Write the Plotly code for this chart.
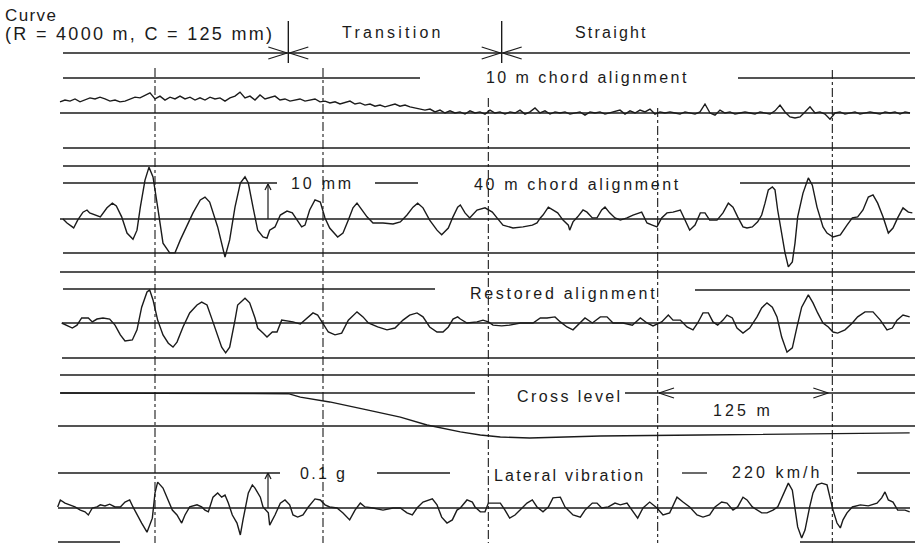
import numpy as np
import plotly.graph_objects as go

# ---------------- data (read from the recording) ----------------
section_bounds_m = [100, 260]            # curve|transition, transition|straight
marker_m = [0, 126, 250, 377, 508]       # dash-dot distance markers
span_text = "125 m"

# 10 m chord alignment (mm), sampled every 3.75 m from -71.25 m
chord10_start_m = -71.25
chord10_step_m = 3.75
chord10_mm = [
    3.1, 3.6, 3.3, 3.9, 3.1, 3.6, 4.2, 3.9, 4.4, 3.9,
    3.3, 3.6, 3.1, 3.3, 3.9, 4.4, 4.2, 5.0, 5.6, 3.9,
    4.7, 3.6, 4.4, 3.9, 4.7, 3.9, 4.4, 3.6, 4.2, 3.6,
    4.4, 3.9, 4.2, 3.3, 4.2, 4.7, 5.8, 4.2, 4.7, 3.6,
    5.0, 3.9, 4.4, 4.7, 3.6, 3.9, 3.3, 3.6, 3.9, 3.3,
    3.6, 3.9, 3.1, 3.3, 2.8, 3.1, 2.5, 2.8, 3.3, 2.5,
    2.8, 2.2, 2.5, 1.9, 2.2, 1.7, 2.2, 2.5, 1.9, 2.2,
    1.7, 1.4, 1.1, 0.8, 1.1, 0.3, 0.8, 0.0, 0.6, 0.0,
    0.3, -0.3, 0.6, 0.0, 0.3, -0.3, 0.8, 0.0, 0.3, -0.3,
    0.3, 0.0, 0.8, -0.3, 0.3, 1.4, 0.0, 0.6, -0.3, 0.3,
    0.0, 0.3, -0.3, 0.0, 0.3, -0.6, 0.3, 0.0, 0.3, -0.3,
    0.0, 0.3, 0.8, -0.3, 0.6, 0.0, 0.8, 0.3, 1.1, -0.3,
    0.3, 0.0, 0.3, 0.0, -0.3, 0.3, 0.0, -0.3, 0.3, 2.5,
    0.0, -0.6, 0.8, 0.0, 0.3, -0.3, 0.0, 0.3, 0.0, -0.3,
    0.3, 0.0, -0.3, 0.6, 2.2, 0.3, -1.1, -1.4, -1.1, 0.3,
    1.7, 0.0, 0.3, -0.3, -1.7, 0.0, 0.3, -0.3, 0.0, 0.3,
    -0.3, 0.0, 0.3, 0.0, -0.3, 0.3, 0.0, 0.3, -0.3, 0.3,
    0.0,
]

# 40 m chord alignment (distance m, mm)
chord40_m = [
    -69, -66, -62, -61, -58, -54, -51, -49, -41, -36,
    -32, -29, -25, -21, -16.5, -13.5, -11, -7.5, -4.5, -1.5,
    2, 6, 11, 15, 19, 25, 28.5, 34, 37.5, 41,
    43.5, 47, 52.5, 56, 60, 64, 67.5, 70, 73.5, 77,
    81, 84, 86, 90, 94, 99, 103, 106.5, 110, 112.5,
    116, 120, 124, 127.5, 131, 137, 141, 145, 148.5, 151.5,
    155, 159, 163.5, 171, 178.5, 184, 189, 193.5, 197, 201,
    206, 211.5, 215, 220, 223.5, 227, 229, 232.5, 236, 241.5,
    247.5, 253, 256.5, 261, 268.5, 276, 283, 286.5, 289, 291,
    295, 298.5, 302, 306, 310, 311, 313.5, 317, 321, 324,
    328, 331.5, 335, 337.5, 341, 345, 349, 354, 358.5, 365,
    369, 373, 376.5, 380, 384, 388.5, 394, 397.5, 401, 405,
    409, 412.5, 416, 421.5, 426, 430, 433.5, 437, 441, 444,
    448, 452, 455, 457.5, 460, 463, 465, 467, 470, 472.5,
    475, 478, 480, 482, 486, 490, 493, 496.5, 501, 504,
    508.5, 514, 519, 523, 527, 531, 535, 538.5, 542, 546,
    550, 553.5, 557, 561, 565, 568,
]
chord40_mm = [
    0, -1.1, -2.2, -2.5, -0.3, 1.9, 2.5, 1.7, 0.6, 3.1,
    4.4, 3.6, 0.6, -3.9, -5.6, -3.1, 3.3, 10.8, 14.4, 11.7,
    3.3, -6.7, -9.4, -9.4, -5.8, -1.1, 1.7, 5.3, 6.1, 4.7,
    1.9, -2.2, -10.6, -5.8, 3.3, 10.0, 11.7, 10.0, 3.3, -3.1,
    -5.0, -5.3, -3.1, -2.2, 1.1, 2.2, 1.7, -0.3, -2.2, -1.7,
    2.5, 5.3, 4.7, 0.3, -2.5, -5.0, -3.9, -0.3, 3.1, 4.4,
    2.5, 0.6, -1.1, -1.1, -1.4, -0.8, 1.1, 3.3, 4.4, 3.1,
    -0.3, -3.1, -4.4, -2.5, 0.6, 3.3, 3.9, 1.7, 0.3, 2.5,
    3.1, 1.9, 0.3, -1.7, -2.5, -2.2, -1.7, -1.1, 0.3, 1.1,
    3.3, 2.5, 1.7, -0.3, -1.7, -3.1, -0.8, 0.6, 2.5, 1.9,
    0.3, 0.3, 2.5, 3.3, 1.7, 0.3, -0.3, 0.3, 1.1, 1.9,
    -1.1, -1.7, -2.2, 0.3, 1.7, 1.9, 2.5, -0.3, -3.1, -1.7,
    1.7, 1.7, -0.3, -0.3, 1.7, 4.4, 3.3, 0.6, -2.2, -2.5,
    -2.2, -0.8, 1.1, 4.4, 8.1, 8.9, 8.1, 2.5, -3.9, -9.4,
    -13.3, -11.9, -6.7, 0.6, 7.2, 11.4, 9.4, 3.3, -2.2, -3.9,
    -5.0, -4.4, -1.7, 0.3, 0.6, 2.5, 6.1, 6.7, 4.4, 0.6,
    -3.9, -2.5, 0.3, 3.1, 1.9, 1.7,
]

# Restored alignment (distance m, mm)
restored_m = [
    -70, -66, -62, -58.5, -55, -50, -47, -43.5, -39, -34,
    -30, -26, -22.5, -17, -13.5, -10, -6, -4, -1.5, 2,
    6, 10, 13.5, 16.5, 21, 26, 31.5, 35, 39, 43,
    46.5, 50, 53, 56, 60, 62, 67.5, 71, 75, 77,
    81, 84, 88, 91.5, 95, 99, 103.5, 109, 114, 118.5,
    122, 126, 130, 135, 140, 145, 151.5, 156, 160, 167,
    174, 180, 186, 191, 196.5, 201, 206, 211.5, 216, 220,
    223.5, 227, 229, 234, 241.5, 246, 250, 253.5, 260, 266,
    274, 283.5, 289, 294, 300, 304, 309, 313.5, 319, 322.5,
    328, 334, 339, 343.5, 351, 358, 364, 369, 373.5, 380,
    385, 388.5, 394, 399, 403.5, 407, 411, 415, 418.5, 422,
    426, 429, 433, 436.5, 441, 446, 451.5, 455, 459, 463,
    466.5, 470, 474, 478, 481.5, 485, 490, 493.5, 497, 501,
    505, 508.5, 512, 517.5, 523, 527, 532.5, 538.5, 544, 549,
    553, 556.5, 561, 566,
]
restored_mm = [
    0, -0.6, -1.4, -0.6, 1.4, 1.4, 0.3, 1.1, 1.4, 1.1,
    -0.6, -3.3, -5.0, -4.7, -1.9, 4.4, 8.6, 9.2, 6.4, 0.8,
    -3.3, -5.6, -6.7, -5.3, -1.1, 2.8, 5.0, 5.8, 5.0, 0.8,
    -2.8, -6.7, -8.3, -6.7, 0.8, 5.0, 6.9, 5.6, 1.4, -1.4,
    -2.8, -3.9, -2.5, -2.5, 0.8, 0.6, 0.3, -0.3, 1.4, 2.8,
    2.2, 0, -2.5, -3.3, -2.8, 0.8, 3.1, 1.7, 0, -1.1,
    -1.9, -1.4, 0.8, 2.2, 2.8, 1.7, -1.1, -2.5, -2.5, -1.1,
    1.1, 1.7, 1.1, 0, 0.3, 0.8, 0.3, -0.6, -0.8, -0.6,
    0, 0, 1.4, 1.4, 1.7, 0.3, -1.1, -1.9, 0.3, 1.4,
    0, 1.7, 1.7, 0, 0, -0.6, 1.4, 0, -0.8, 0.3,
    2.2, 0.8, 0.8, -1.1, -1.9, 0, 2.8, 2.8, 0.3, -0.6,
    0.8, 2.2, 1.4, -1.4, -2.8, -1.4, 1.7, 4.2, 5.6, 4.4,
    1.7, -3.9, -8.1, -6.9, -1.1, 4.4, 7.8, 5.6, 2.8, 0,
    -1.1, -2.5, -2.8, -1.9, 0, 1.7, 3.1, 3.1, 0.8, -1.9,
    -1.4, 0.8, 2.2, 1.7,
]

# Cross level (distance m, mm) - cant 125 mm in the curve
cross_m = [-71, 100, 109, 131, 159, 184, 204, 229, 244, 259, 281, 304, 334, 409, 484, 566]
cross_mm = [125, 123, 113, 99, 76, 55, 32, 12, 3, -3, -6, -3, 0, 3, 6, 9]

# Lateral vibration (distance m, g)
lateral_m = [
    -73, -71, -67.5, -64, -60, -56, -52.5, -50, -47, -43.5,
    -41, -37.5, -34, -30, -26, -22.5, -19, -16.5, -13.5, -10,
    -6, -2, 0, 2, 6, 10, 13, 16.5, 20, 22.5,
    26, 31.5, 35, 37.5, 40, 43.5, 47, 50, 52.5, 55,
    58, 61.5, 64, 66, 70, 73, 75, 79, 81, 85,
    86, 90, 94, 97.5, 101, 103.5, 107, 111, 115, 120,
    124, 127.5, 131, 136.5, 141, 146, 150, 154, 157.5, 163.5,
    171, 178.5, 184, 189, 193, 196.5, 201, 208, 211.5, 215,
    219, 223, 226.5, 229, 234, 238, 240, 244, 247.5, 250,
    253.5, 259, 262.5, 266, 270, 274, 279, 283, 286.5, 291,
    295, 298.5, 304, 307.5, 313.5, 319, 322.5, 328, 331.5, 335,
    340, 345, 349, 354, 358.5, 362, 366, 371, 376.5, 381,
    386, 391.5, 396, 401, 406.5, 411, 416, 420, 425, 429,
    433.5, 437, 441, 444, 448, 451.5, 455, 459, 463.5, 467,
    470, 472.5, 475, 478, 480, 482, 485, 487.5, 491, 493.5,
    496.5, 500, 504, 506, 508.5, 511.5, 514, 516, 519, 523,
    529, 535, 541.5, 545, 547.5, 550, 553.5, 557, 562.5, 566,
]
lateral_g = [
    0.003, 0.023, 0.014, 0.009, 0.003, -0.006, -0.011, -0.020, 0, 0.003,
    0.009, 0.006, 0.011, 0.003, 0.003, 0.017, 0.023, 0.003, -0.020, -0.043,
    -0.069, -0.029, 0.043, 0.074, 0.057, 0.023, -0.006, -0.020, -0.043, -0.020,
    0.003, 0.009, 0.003, -0.006, -0.011, 0.031, 0.043, 0.031, 0.037, 0.014,
    -0.020, -0.043, -0.077, -0.034, 0.043, 0.066, 0.057, 0.031, 0.003, -0.014,
    -0.049, -0.020, 0.014, 0.023, 0.009, -0.020, -0.026, -0.020, 0.003, 0.026,
    0.023, 0.009, 0.003, 0, -0.014, -0.034, -0.006, 0.014, 0.003, 0,
    -0.006, 0, 0, -0.014, -0.020, 0, 0.017, 0.026, 0.009, -0.026,
    -0.043, -0.034, -0.006, 0, 0.023, 0.017, 0.003, -0.011, -0.011, 0.014,
    0.014, 0.014, -0.006, -0.029, -0.020, -0.006, 0.014, 0.023, 0.003, -0.011,
    0.003, 0.029, 0.031, 0.003, -0.020, -0.026, -0.006, 0.014, 0.014, 0,
    0.003, 0.014, 0.009, 0.014, -0.011, -0.029, 0, 0.017, 0, -0.020,
    -0.014, 0.031, 0.017, 0.003, -0.020, -0.026, -0.020, 0.003, 0.017, 0.014,
    -0.006, 0.003, 0.031, 0.023, 0.003, -0.006, -0.014, -0.014, -0.006, 0.003,
    0.029, 0.051, 0.071, 0.051, -0.006, -0.054, -0.086, -0.063, 0.003, 0.043,
    0.066, 0.071, 0.066, 0.031, -0.006, -0.043, -0.057, -0.034, -0.014, 0.003,
    0.009, 0.006, 0.014, 0.029, 0.046, 0.023, 0.017, -0.006, -0.006, -0.011,
]

# ---------------- layout constants ----------------
W, H = 920, 543
M_PER_PX = 0.75
ORIGIN_PX = 155
INK = "#1b1b1b"
FONT = "Liberation Sans, Arial, sans-serif"

chord10_m = chord10_start_m + chord10_step_m * np.arange(len(chord10_mm))

# (x, y, baseline pixel row, pixels per unit)
channels = [
    (chord10_m, chord10_mm, 113, 3.6),
    (chord40_m, chord40_mm, 219, 3.6),
    (restored_m, restored_mm, 323, 3.6),
    (cross_m, cross_mm, 436, 0.344),
    (lateral_m, lateral_g, 508, 350.0),
]

fig = go.Figure()
layout_axes = {}
for i, (xs, ys, base, ppu) in enumerate(channels):
    name = "y" if i == 0 else f"y{i + 1}"
    fig.add_trace(go.Scatter(x=list(xs), y=ys, mode="lines", yaxis=name,
                             line=dict(color=INK, width=1.4), hoverinfo="skip"))
    key = "yaxis" if i == 0 else f"yaxis{i + 1}"
    ax = dict(range=[-(H - base) / ppu, base / ppu], visible=False, fixedrange=True)
    if i > 0:
        ax["overlaying"] = "y"
    layout_axes[key] = ax


def px(x):
    return x / W


def py(y):
    return 1 - y / H


shapes = []


def hline(y, x0, x1, w=1.3):
    shapes.append(dict(type="line", xref="paper", yref="paper",
                       x0=px(x0), x1=px(x1), y0=py(y), y1=py(y),
                       line=dict(color=INK, width=w)))


def seg_p(x0, y0, x1, y1, w=1.2):
    shapes.append(dict(type="line", xref="paper", yref="paper",
                       x0=px(x0), x1=px(x1), y0=py(y0), y1=py(y1),
                       line=dict(color=INK, width=w)))


def seg_x(m0, y0, m1, y1, w=1.2):
    shapes.append(dict(type="line", xref="x", yref="paper",
                       x0=m0, x1=m1, y0=py(y0), y1=py(y1),
                       line=dict(color=INK, width=w)))


rules = [
    (53, 63, 910), (78, 63, 420), (78, 738, 915), (113, 60, 910),
    (148, 63, 910), (166, 63, 910), (183, 63, 277), (183, 375, 418),
    (183, 740, 915), (219, 60, 915), (253, 63, 915), (272, 60, 915),
    (289, 63, 435), (290, 695, 910), (323, 62, 910), (358, 62, 915),
    (375, 60, 915), (393, 60, 475), (393, 625, 915), (426, 58, 915),
    (473, 58, 280), (473, 377, 450), (473, 682, 707), (473, 857, 910),
    (508, 58, 910), (542, 58, 120), (542, 800, 915),
]
for y, a, b in rules:
    hline(y, a, b)

# dash-dot distance markers
marker_top = [68, 68, 98, 108, 70]
for m, top in zip(marker_m, marker_top):
    shapes.append(dict(type="line", xref="x", yref="paper", x0=m, x1=m,
                       y0=py(top), y1=py(H), line=dict(color=INK, width=1.1, dash="dashdot")))

# section boundaries  ->|<-
arm = 20 * M_PER_PX
for b in section_bounds_m:
    seg_x(b, 21, b, 63, 1.4)
    seg_x(b - arm, 47, b - 0.8, 53)
    seg_x(b - arm, 59, b - 0.8, 53)
    seg_x(b + 0.8, 53, b + arm, 47)
    seg_x(b + 0.8, 53, b + arm, 59)

# 125 m span arrow between the last two markers
a0, a1 = marker_m[3] + 1, marker_m[4] - 3
arm2 = 15 * M_PER_PX
seg_x(a0, 393, a0 + arm2, 388)
seg_x(a0, 393, a0 + arm2, 398)
seg_x(a1, 393, a1 - arm2, 388)
seg_x(a1, 393, a1 - arm2, 398)

# scale arrows (10 mm and 0.1 g)
for base in (219, 508):
    seg_p(268, base, 268, base - 35, 1.2)
    seg_p(265, base - 29, 268, base - 35, 1.2)
    seg_p(271, base - 29, 268, base - 35, 1.2)

labels = [
    ("Curve", 3, 15, "left", 17, 1.4),
    ("(R = 4000 m, C = 125 mm)", 3, 34, "left", 18, 2.3),
    ("Transition", 393, 33, "center", 16, 3.2),
    ("Straight", 611, 33, "center", 16, 2.2),
    ("10 m chord alignment", 587, 78, "center", 16, 2.45),
    ("10 mm", 322, 183, "center", 16, 2.8),
    ("40 m chord alignment", 577, 184, "center", 16, 2.65),
    ("Restored alignment", 563, 293, "center", 16, 2.7),
    ("Cross level", 570, 396, "center", 16, 2.4),
    (span_text, 743, 410, "center", 16, 3.1),
    ("0.1 g", 323, 473, "center", 16, 2.3),
    ("Lateral vibration", 569, 475, "center", 16, 2.2),
    ("220 km/h", 777, 472, "center", 16, 3.1),
]
annotations = []
for text, x, y, anc, size, ls in labels:
    annotations.append(dict(
        text=f'<span style="letter-spacing:{ls}px">{text}</span>',
        xref="paper", yref="paper", x=px(x), y=py(y),
        xanchor=anc, yanchor="middle", showarrow=False,
        font=dict(family=FONT, size=size, color=INK), bgcolor="rgba(0,0,0,0)"))

fig.update_layout(
    width=W, height=H,
    margin=dict(l=0, r=0, t=0, b=0, pad=0),
    paper_bgcolor="white", plot_bgcolor="white",
    showlegend=False,
    xaxis=dict(range=[-ORIGIN_PX * M_PER_PX, (W - ORIGIN_PX) * M_PER_PX],
               visible=False, fixedrange=True),
    shapes=shapes, annotations=annotations,
    **layout_axes,
)

fig.write_html("out.html", config={"displayModeBar": False})
